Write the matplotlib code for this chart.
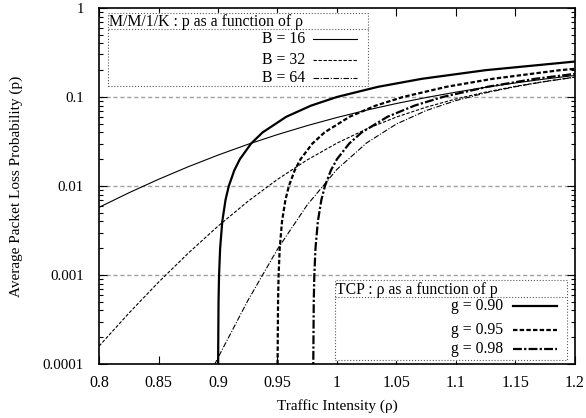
import matplotlib
matplotlib.use('Agg')
import matplotlib.pyplot as plt
from matplotlib.ticker import FixedLocator, FixedFormatter, LogLocator, NullFormatter, NullLocator

plt.rcParams['font.family'] = ['Liberation Serif', 'DejaVu Serif']
plt.rcParams['font.size'] = 11

# M/M/1/K curves : loss probability p read at traffic intensity rho
rho_grid = [0.800, 0.825, 0.850, 0.875, 0.900, 0.925, 0.950, 0.975, 1.000,
            1.025, 1.050, 1.075, 1.100, 1.125, 1.150, 1.175, 1.200]
p_b16 = [0.00576, 0.00838, 0.01189, 0.01646, 0.02224, 0.02934, 0.03782, 0.04767, 0.05882,
         0.07116, 0.08448, 0.09860, 0.1133, 0.1285, 0.1438, 0.1592, 0.1745]
p_b32 = [0.000159, 0.000372, 0.000831, 0.00176, 0.00354, 0.00670, 0.01187, 0.01964, 0.03030,
         0.04377, 0.05952, 0.07683, 0.0950, 0.1134, 0.1317, 0.1497, 0.1671]
p_b64 = [1.25e-7, 7.9e-7, 4.56e-6, 2.43e-5, 0.000118, 0.000514, 0.00195, 0.00613, 0.01538,
         0.03052, 0.04970, 0.07041, 0.0911, 0.1112, 0.1304, 0.1489, 0.1667]

# TCP curves : traffic intensity rho read at loss probability p
p_grid = [5e-5, 1e-4, 5e-4, 1e-3, 2e-3, 4e-3, 7e-3, 0.01, 0.015, 0.02, 0.03, 0.04,
          0.06, 0.08, 0.10, 0.13, 0.16, 0.20, 0.25]
rho_g90 = [0.90005, 0.90009, 0.90045, 0.90090, 0.90180, 0.90361, 0.90634, 0.90909, 0.91371,
           0.91837, 0.92784, 0.93750, 0.95745, 0.97826, 1.00000, 1.03448, 1.07143, 1.12500, 1.20000]
rho_g95 = [0.95005, 0.95010, 0.95048, 0.95095, 0.95190, 0.95382, 0.95670, 0.95960, 0.96447,
           0.96939, 0.97938, 0.98958, 1.01064, 1.03261, 1.05556, 1.09195, 1.13095, 1.18750, 1.26667]
rho_g98 = [0.98005, 0.98010, 0.98049, 0.98098, 0.98196, 0.98394, 0.98691, 0.98990, 0.99492,
           1.00000, 1.01031, 1.02083, 1.04255, 1.06522, 1.08889, 1.12644, 1.16667, 1.22500, 1.30667]

x_ticks = [0.8, 0.85, 0.9, 0.95, 1.0, 1.05, 1.1, 1.15, 1.2]
x_labels = ['0.8', '0.85', '0.9', '0.95', '1', '1.05', '1.1', '1.15', '1.2']
y_ticks = [1e-4, 1e-3, 1e-2, 1e-1, 1]
y_labels = ['0.0001', '0.001', '0.01', '0.1', '1']

mm1k_labels = ['B = 16', 'B = 32', 'B = 64']
tcp_labels = ['g = 0.90', 'g = 0.95', 'g = 0.98']

thin_styles = ['-', (0, (3, 1.5)), (0, (5, 1.5, 1, 1.5))]
thick_styles = ['-', (0, (2, 1)), (0, (4, 1, 1, 1))]

fig = plt.figure(figsize=(5.86, 4.18), dpi=100)
ax = fig.add_axes([0.169, 0.129, 0.812, 0.852])

# grid lines at the inner decades
for yv in y_ticks[1:-1]:
    ax.axhline(yv, color='#a0a0a0', linestyle=(0, (3, 2)), linewidth=1.0, zorder=1)

for p, ls in zip([p_b16, p_b32, p_b64], thin_styles):
    ax.plot(rho_grid, p, color='black', linewidth=0.8, linestyle=ls, zorder=3)

for r, ls in zip([rho_g90, rho_g95, rho_g98], thick_styles):
    ax.plot(r, p_grid, color='black', linewidth=1.6, linestyle=ls, zorder=3)

ax.set_yscale('log')
ax.set_xlim(0.8, 1.2)
ax.set_ylim(1e-4, 1)

ax.xaxis.set_major_locator(FixedLocator(x_ticks))
ax.xaxis.set_major_formatter(FixedFormatter(x_labels))
ax.xaxis.set_minor_locator(NullLocator())
ax.yaxis.set_major_locator(FixedLocator(y_ticks))
ax.yaxis.set_major_formatter(FixedFormatter(y_labels))
ax.yaxis.set_minor_locator(LogLocator(base=10, subs=range(2, 10)))
ax.yaxis.set_minor_formatter(NullFormatter())

ax.tick_params(which='both', direction='in', top=True, right=True)
ax.tick_params(which='major', length=6, width=0.8)
ax.tick_params(which='minor', length=3, width=0.8)
ax.tick_params(axis='x', pad=8, labelsize=11.5)
ax.tick_params(axis='y', pad=11, labelsize=10.7)
for s in ax.spines.values():
    s.set_linewidth(1.2)

ax.set_xlabel('Traffic Intensity (ρ)', fontsize=11, labelpad=6)
ax.set_ylabel('Average Packet Loss Probability (p)', fontsize=11, labelpad=14)


def draw_key(box, sep_y, title, title_pos, labels, styles, lw, text_x, line_x, rows):
    x0, y0, x1, y1 = box
    ax.fill([x0, x1, x1, x0], [y0, y0, y1, y1], color='white', transform=ax.transAxes, zorder=4)
    ax.plot([x0, x1, x1, x0, x0], [y0, y0, y1, y1, y0], color='0.35', linestyle=':',
            linewidth=0.8, transform=ax.transAxes, zorder=5)
    ax.plot([x0, x1], [sep_y, sep_y], color='0.35', linestyle=':', linewidth=0.8,
            transform=ax.transAxes, zorder=5)
    ax.text(title_pos[0], title_pos[1], title, transform=ax.transAxes, ha='left', va='center',
            fontsize=11.3, zorder=6)
    for lab, ls, ry in zip(labels, styles, rows):
        ax.text(text_x, ry, lab, transform=ax.transAxes, ha='right', va='center',
                fontsize=11.3, zorder=6)
        ax.plot(line_x, [ry, ry], color='black', linestyle=ls, linewidth=lw,
                transform=ax.transAxes, zorder=6)


draw_key((0.019, 0.781, 0.565, 0.986), 0.941, 'M/M/1/K : p as a function of ρ', (0.021, 0.960),
         mm1k_labels, thin_styles, 0.8, 0.433, [0.450, 0.542], [0.913, 0.854, 0.803])
draw_key((0.496, 0.011, 0.983, 0.236), 0.188, 'TCP : ρ as a function of p', (0.499, 0.208),
         tcp_labels, thick_styles, 1.6, 0.849, [0.870, 0.962], [0.163, 0.096, 0.042])

fig.savefig('out.png', dpi=100)
